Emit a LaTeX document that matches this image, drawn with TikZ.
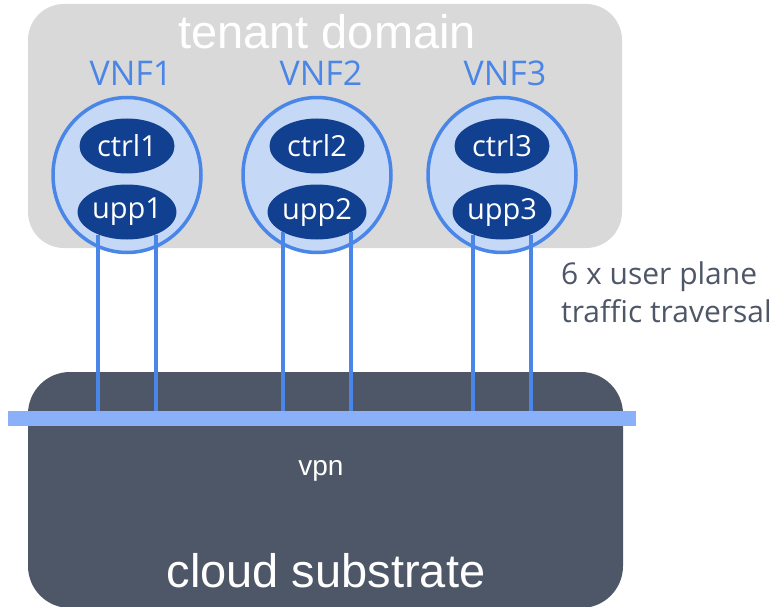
\documentclass[tikz,border=0pt]{standalone}
\usepackage{fontspec}
\setmainfont{Liberation Sans}
\newfontfamily\purefont{Open Sans}
\usetikzlibrary{shapes.geometric}
\usetikzlibrary{positioning}
\definecolor{tenantgrey}{RGB}{217,217,217}
\definecolor{substrate}{RGB}{78,87,103}
\definecolor{vnfline}{RGB}{74,134,232}
\definecolor{vnffill}{RGB}{197,216,246}
\definecolor{fnblue}{RGB}{18,64,145}
\definecolor{vpnbar}{RGB}{138,176,250}
\definecolor{notegrey}{RGB}{78,87,103}
\tikzstyle{every vnf} = []
\tikzstyle{vnf} = [ellipse, draw=vnfline, fill=vnffill, line width=3.5pt, minimum width=148pt, minimum height=155pt, inner sep=0pt, every vnf]
\tikzstyle{fn} = [ellipse, fill=fnblue, text=white, minimum width=95pt, minimum height=55pt, inner sep=0pt, font=\purefont\fontsize{29}{30}\selectfont]
\tikzstyle{vnflabel} = [anchor=base, text=vnfline, inner sep=0pt, font=\purefont\fontsize{34}{36}\selectfont]
\tikzstyle{link} = [draw=vnfline, line width=3.5pt]

\begin{document}
\begin{tikzpicture}[x=1pt, y=-1pt]
        \tikzstyle{domainbox} = [rectangle, rounded corners=36pt, inner sep=0pt, minimum width=594pt]
        \useasboundingbox (0,0) rectangle (782,607);

        \node[domainbox, fill=tenantgrey, minimum height=244pt] (tenant) at (325,126) {};
        \node[anchor=base, text=white, inner sep=0pt, font=\fontsize{47}{50}\selectfont] (tenantlbl) at (327,49) {tenant domain};

        \node[vnf] (vnf1) at (127,175) {};
        \node[vnf] (vnf2) at (317,175) {};
        \node[vnf] (vnf3) at (502,175) {};
        \node[vnflabel] (vnf1lbl) at (131,86) {VNF1};
        \node[vnflabel] (vnf2lbl) at (321,86) {VNF2};
        \node[vnflabel] (vnf3lbl) at (505,86) {VNF3};

        \node[fn] (ctrl1) [above of=vnf1, node distance=29pt] {ctrl1};
        \node[fn] (upp1) [below of=vnf1, node distance=37pt] {upp1};
        \node[fn] (ctrl2) [above of=vnf2, node distance=29pt] {ctrl2};
        \node[fn] (upp2) [below of=vnf2, node distance=37pt] {upp2};
        \node[fn] (ctrl3) [above of=vnf3, node distance=29pt] {ctrl3};
        \node[fn] (upp3) [below of=vnf3, node distance=37pt] {upp3};

        \node[anchor=north west, align=left, inner sep=0pt, text=notegrey, font=\purefont\fontsize{30}{38}\selectfont] (traversal) at (561,262) {6 x user plane\\traffic traversal};

        \node[domainbox, fill=substrate, rounded corners=42pt, minimum width=595pt, minimum height=236pt] (cloud) at (325.5,490) {};
        \node[anchor=base, text=white, inner sep=0pt, font=\fontsize{28}{30}\selectfont] (vpnlbl) at (321,475) {vpn};
        \node[anchor=base, text=white, inner sep=0pt, font=\fontsize{47}{50}\selectfont] (cloudlbl) at (326,587) {cloud substrate};

        \node[rectangle, fill=vpnbar, inner sep=0pt, minimum width=628pt, minimum height=15pt] (vpn) at (322,418.5) {};

        % user plane links down to the vpn
        \draw[link] (upp1.218) -- (upp1.218 |- vpn.north);
        \draw[link] (upp1.322) -- (upp1.322 |- vpn.north);
        \draw[link] (upp2.211) -- (upp2.211 |- vpn.north);
        \draw[link] (upp2.329) -- (upp2.329 |- vpn.north);
        \draw[link] (upp3.218) -- (upp3.218 |- vpn.north);
        \draw[link] (upp3.322) -- (upp3.322 |- vpn.north);
\end{tikzpicture}
\end{document}
